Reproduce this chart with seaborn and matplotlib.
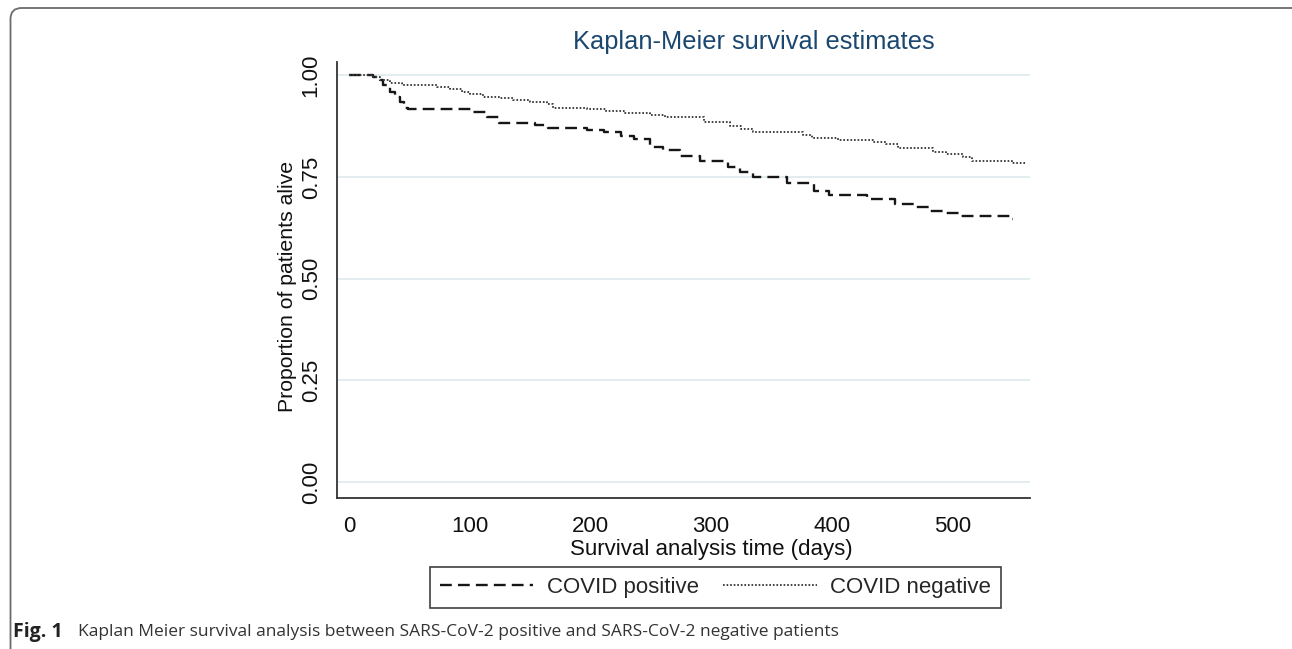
import numpy as np
import pandas as pd
import matplotlib
matplotlib.use("Agg")
import matplotlib.pyplot as plt
import seaborn as sns
from matplotlib.patches import FancyBboxPatch
from matplotlib.lines import Line2D
from matplotlib.transforms import IdentityTransform

# ---------------- data ----------------
pos_time = [0, 20, 26, 28, 34, 38, 42, 46, 49, 102, 114, 124, 154, 165, 197, 211,
            225, 236, 249, 260, 274, 291, 314, 324, 335, 363, 385, 398, 429, 452,
            468, 481, 492, 506, 548, 550]
pos_surv = [1.000, 0.995, 0.988, 0.975, 0.959, 0.947, 0.934, 0.920, 0.916, 0.909,
            0.898, 0.883, 0.877, 0.871, 0.865, 0.861, 0.850, 0.842, 0.824, 0.815,
            0.801, 0.790, 0.775, 0.763, 0.749, 0.735, 0.716, 0.706, 0.695, 0.683,
            0.677, 0.667, 0.661, 0.653, 0.646, 0.646]

neg_time = [0, 20, 26, 34, 44, 73, 84, 94, 100, 111, 125, 136, 150, 164, 169, 197,
            213, 229, 249, 262, 294, 316, 325, 335, 376, 384, 405, 434, 445, 455,
            484, 495, 509, 516, 549, 561]
neg_surv = [1.000, 0.996, 0.988, 0.980, 0.975, 0.970, 0.965, 0.959, 0.953, 0.947,
            0.943, 0.939, 0.934, 0.929, 0.920, 0.916, 0.911, 0.906, 0.902, 0.896,
            0.886, 0.876, 0.868, 0.861, 0.854, 0.845, 0.840, 0.836, 0.832, 0.820,
            0.811, 0.805, 0.799, 0.789, 0.783, 0.783]

group_labels = ["COVID positive", "COVID negative"]
x_ticks = [0, 100, 200, 300, 400, 500]
y_ticks = [0.00, 0.25, 0.50, 0.75, 1.00]
y_tick_labels = ["0.00", "0.25", "0.50", "0.75", "1.00"]

title_text = "Kaplan-Meier survival estimates"
x_label = "Survival analysis time (days)"
y_label = "Proportion of patients alive"
caption_bold = "Fig. 1"
caption_text = "Kaplan Meier survival analysis between SARS-CoV-2 positive and SARS-CoV-2 negative patients"

df = pd.concat([
    pd.DataFrame({"time": pos_time, "surv": pos_surv, "group": group_labels[0]}),
    pd.DataFrame({"time": neg_time, "surv": neg_surv, "group": group_labels[1]}),
], ignore_index=True)

# ---------------- style ----------------
sns.set_theme(style="white")
plt.rcParams["font.family"] = ["Liberation Sans", "DejaVu Sans"]

W, H = 1292, 649
fig = plt.figure(figsize=(W / 100, H / 100), dpi=100)
fig.patch.set_facecolor("white")

ax_l, ax_r, ax_b, ax_t = 337, 1030, 498, 61.7
ax = fig.add_axes([ax_l / W, (H - ax_b) / H, (ax_r - ax_l) / W, (ax_b - ax_t) / H])
ax.set_facecolor("white")

pos_color = "#161616"
neg_color = "#3a3a3a"
pos_lw, neg_lw = 1.7, 1.35
pos_dash = [5.0, 2.6]
neg_dash = [0.9, 1.0]

sns.lineplot(data=df[df["group"] == group_labels[0]], x="time", y="surv",
             drawstyle="steps-post", estimator=None, sort=False,
             color=pos_color, lw=pos_lw, ax=ax, legend=False)
ax.lines[-1].set_dashes(pos_dash)
sns.lineplot(data=df[df["group"] == group_labels[1]], x="time", y="surv",
             drawstyle="steps-post", estimator=None, sort=False,
             color=neg_color, lw=neg_lw, ax=ax, legend=False)
ax.lines[-1].set_dashes(neg_dash)

ax.set_xlim(-9.9, 564.2)
ax.set_ylim(-0.039, 1.033)
ax.set_yticks(y_ticks)
ax.set_yticklabels(y_tick_labels, rotation=90, va="center")
ax.set_xticks(x_ticks)
ax.yaxis.grid(True, color="#e0ebee", lw=1.3)
ax.xaxis.grid(False)
ax.set_axisbelow(True)

for s in ["top", "right"]:
    ax.spines[s].set_visible(False)
for s in ["left", "bottom"]:
    ax.spines[s].set_color("#333333")
    ax.spines[s].set_linewidth(1.3)

ax.tick_params(axis="both", direction="out", length=8, width=1.2, color="#333333",
               labelsize=16, labelcolor="#111111", pad=5)
ax.tick_params(axis="y", pad=3)

ax.set_xlabel(x_label, fontsize=16, color="#111111")
ax.set_ylabel(y_label, fontsize=15.3, color="#111111")
ax.xaxis.set_label_coords(0.54, -0.094)
ax.yaxis.set_label_coords(-0.057, 0.485)

fig.text(754 / W, 1 - 42 / H, title_text, ha="center", va="center",
         fontsize=18.3, color="#1a476f")

# legend
handles = [Line2D([0], [0], color=pos_color, lw=pos_lw, dashes=pos_dash),
           Line2D([0], [0], color=neg_color, lw=neg_lw, dashes=neg_dash)]
leg_l, leg_r, leg_t, leg_b = 430, 1001, 566, 608
leg = fig.legend(handles, group_labels, loc="lower left",
                 bbox_to_anchor=(leg_l / W, (H - leg_b) / H, (leg_r - leg_l) / W, (leg_b - leg_t) / H),
                 bbox_transform=fig.transFigure, mode="expand", ncol=2,
                 frameon=True, fancybox=False, edgecolor="#111111",
                 fontsize=16, handlelength=4.2, handletextpad=0.6,
                 borderaxespad=0, borderpad=0.45)
leg.get_frame().set_linewidth(1.2)

# caption
fig.text(13 / W, 1 - 632 / H, caption_bold, ha="left", va="center", fontsize=14,
         fontweight="bold", family=["Open Sans", "DejaVu Sans"], color="#222222")
fig.text(78 / W, 1 - 632 / H, caption_text, ha="left", va="center", fontsize=12.5,
         family=["Open Sans", "DejaVu Sans"], color="#333333")

# outer rounded frame (pixel coordinates)
frame = FancyBboxPatch((10.5, -20), 1300, H - 8 + 20,
                       boxstyle="round,pad=0,rounding_size=11",
                       transform=IdentityTransform(), facecolor="none",
                       edgecolor="#6b6b6b", lw=1.3)
fig.add_artist(frame)

fig.savefig("out.png", dpi=100)
